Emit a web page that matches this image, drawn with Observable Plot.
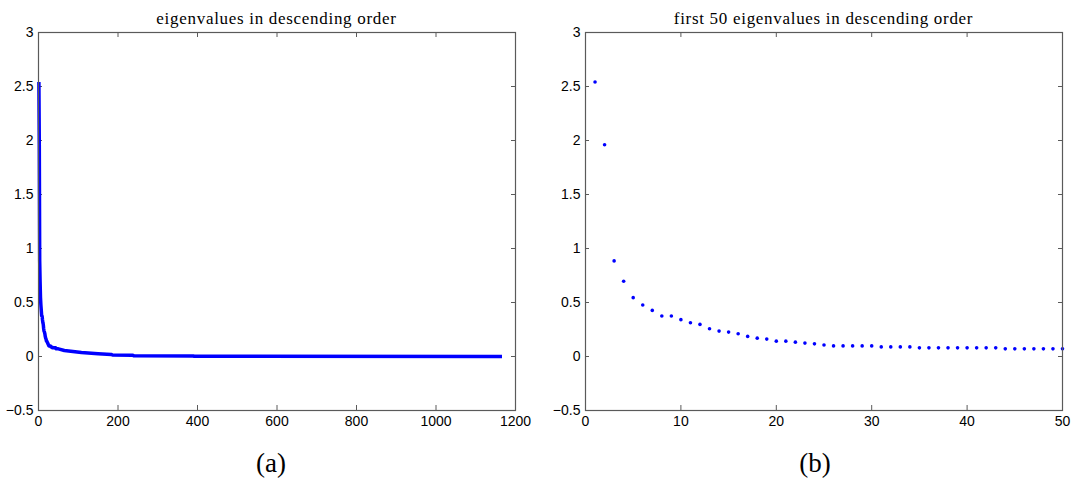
<!DOCTYPE html>
<html>
<head>
<meta charset="utf-8">
<script src="https://cdn.jsdelivr.net/npm/d3@7"></script>
<script src="https://cdn.jsdelivr.net/npm/@observablehq/plot@0.6"></script>
<style>
  body { margin: 0; background: #fff; }
  #wrap { position: relative; width: 1078px; height: 481px; overflow: hidden; background: #fff; }
  .panel { position: absolute; top: 0; }
  .title, .cap { position: absolute; font-family: "Liberation Serif", "DejaVu Serif", serif; color: #000; white-space: nowrap; transform: translateX(-50%); line-height: 1; }
  .title { font-size: 17px; letter-spacing: 0.7px; top: 10px; }
  .cap { font-size: 27px; top: 450px; }
</style>
</head>
<body>
<div id="wrap"></div>
<script>
// ---- data ----
// first 50 eigenvalues (rank 1..50), descending
const firstEigen = [
  2.542, 1.960, 0.885, 0.697, 0.545, 0.477, 0.427, 0.375, 0.375, 0.341,
  0.313, 0.297, 0.257, 0.235, 0.226, 0.211, 0.186, 0.170, 0.161, 0.142,
  0.142, 0.133, 0.124, 0.117, 0.107, 0.098, 0.098, 0.098, 0.098, 0.098,
  0.089, 0.089, 0.089, 0.089, 0.080, 0.080, 0.080, 0.080, 0.080, 0.080,
  0.080, 0.080, 0.080, 0.071, 0.071, 0.071, 0.071, 0.071, 0.071, 0.071
];
// tail of the full spectrum, read at selected ranks
const tailRank  = [65,    108,   150,   183,   186,   236,   240,   389,   392,   1166];
const tailValue = [0.056, 0.037, 0.026, 0.019, 0.014, 0.012, 0.007, 0.005, 0.002, 0.001];

const xTicksA = [0, 200, 400, 600, 800, 1000, 1200];
const xTicksB = [0, 10, 20, 30, 40, 50];
const yTicks  = [-0.5, 0, 0.5, 1, 1.5, 2, 2.5, 3];
const titleA = "eigenvalues in descending order";
const titleB = "first 50 eigenvalues in descending order";
const capA = "(a)";
const capB = "(b)";

// ---- tables ----
const rank50 = d3.range(1, firstEigen.length + 1);
const first = rank50.map((r, i) => ({rank: r, value: firstEigen[i]}));
const full = first.concat(tailRank.map((r, i) => ({rank: r, value: tailValue[i]})));

const W = 539, H = 440, MT = 32, MB = 30;
const PH = H - MT - MB;
const fmt = d => String(d).replace("-", "\u2212");
const axisCol = "#5a5a5a";

function panel({data, xDomain, xTicks, ml, mr, mark}) {
  const PW = W - ml - mr;
  return Plot.plot({
    width: W, height: H,
    marginLeft: ml, marginRight: mr, marginTop: MT, marginBottom: MB,
    style: {fontFamily: "'Liberation Sans', Arial, sans-serif", fontSize: "14px", color: "#000", background: "#fff", overflow: "visible"},
    x: {domain: xDomain, ticks: xTicks, tickFormat: fmt, label: null},
    y: {domain: [-0.5, 3], ticks: yTicks, tickFormat: fmt, label: null},
    marks: [
      Plot.axisX(xTicks, {tickSize: 0, tickPadding: 6, tickFormat: fmt, label: null}),
      Plot.axisY(yTicks, {tickSize: 0, tickPadding: 5, tickFormat: fmt, label: null}),
      // inward tick marks (MATLAB style) on all four sides
      Plot.ruleX(xTicks, {x: d => d, insetTop: PH - 5, stroke: axisCol}),
      Plot.ruleX(xTicks, {x: d => d, insetBottom: PH - 5, stroke: axisCol}),
      Plot.ruleY(yTicks, {y: d => d, insetRight: PW - 4, stroke: axisCol}),
      Plot.ruleY(yTicks, {y: d => d, insetLeft: PW - 4, stroke: axisCol}),
      mark(data),
      Plot.frame({stroke: axisCol, strokeWidth: 1.2})
    ]
  });
}

const wrap = document.getElementById("wrap");

const a = panel({
  data: full, xDomain: [0, 1200], xTicks: xTicksA, ml: 38, mr: 24,
  mark: d => Plot.line(d, {x: "rank", y: "value", stroke: "#0000ff", strokeWidth: 3.5, strokeLinejoin: "round", strokeLinecap: "butt"})
});
a.classList.add("panel"); a.style.left = "0px";
wrap.appendChild(a);

const b = panel({
  data: first, xDomain: [0, 50], xTicks: xTicksB, ml: 46, mr: 16,
  mark: d => Plot.dot(d, {x: "rank", y: "value", r: 1.8, fill: "#0000ff", stroke: "none"})
});
b.classList.add("panel"); b.style.left = W + "px";
wrap.appendChild(b);

function addText(cls, txt, x) {
  const el = document.createElement("div");
  el.className = cls; el.textContent = txt; el.style.left = x + "px";
  wrap.appendChild(el);
}
addText("title", titleA, 276.5);
addText("title", titleB, 823.5);
addText("cap", capA, 271);
addText("cap", capB, 815);
</script>
</body>
</html>
